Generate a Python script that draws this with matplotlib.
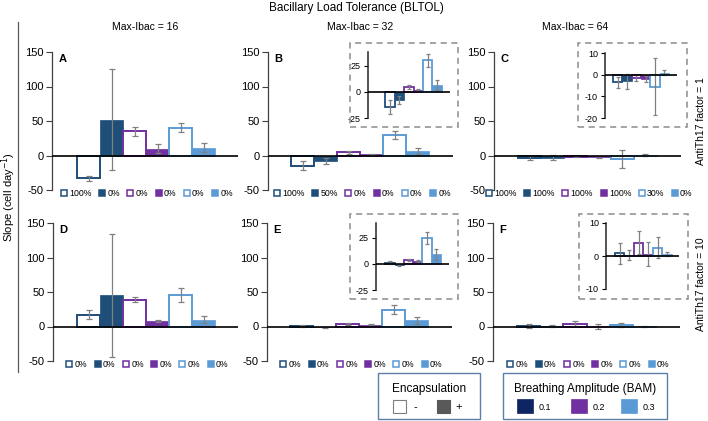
import numpy as np
import matplotlib.pyplot as plt
from matplotlib.lines import Line2D
from matplotlib.patches import Rectangle

plt.rcParams['font.family'] = ['Liberation Sans', 'DejaVu Sans']
plt.rcParams['axes.unicode_minus'] = False

# bar order: BAM 0.1 (-,+), BAM 0.2 (-,+), BAM 0.3 (-,+)
colors = ['#1f4e79', '#1f4e79', '#7030a0', '#7030a0', '#5b9bd5', '#5b9bd5']
filled = [False, True, False, True, False, True]

valsA = [-33, 52, 35, 10, 40, 11.5]
errA = [4, 73, 7, 7, 6.5, 7]
pctA = ['100%', '0%', '0%', '0%', '0%', '0%']

valsB = [-14.5, -8, 4.5, 1.5, 30, 6.5]
errB = [6.5, 4, 2, 1, 6, 5]
pctB = ['100%', '50%', '0%', '0%', '0%', '0%']

valsC = [-3.5, -3, -1.5, -2, -5.5, 1]
errC = [2.5, 3.5, 1.2, 1.5, 13, 1]
pctC = ['100%', '100%', '100%', '100%', '30%', '0%']

valsD = [17, 45, 39, 8, 46, 10]
errD = [6.5, 89, 4, 2, 10, 5]
pctD = ['0%', '0%', '0%', '0%', '0%', '0%']

valsE = [1, -1, 3.5, 2.5, 24.5, 9]
errE = [1.5, 1, 1, 1, 6, 5]
pctE = ['0%', '0%', '0%', '0%', '0%', '0%']

valsF = [0.8, 0.3, 4, 0.5, 2.5, 0.5]
errF = [3.2, 1.5, 3.5, 3.6, 3.2, 0.6]
pctF = ['0%', '0%', '0%', '0%', '0%', '0%']

col_titles = ['Max-Ibac = 16', 'Max-Ibac = 32', 'Max-Ibac = 64']
row_titles = ['AntiTh17 factor = 1', 'AntiTh17 factor = 10']

W, H = 708, 421
fig = plt.figure(figsize=(W / 100, H / 100), dpi=100)


def px(x0, y0, x1, y1):
    # pixel box -> figure fraction rect
    return [x0 / W, 1 - y1 / H, (x1 - x0) / W, (y1 - y0) / H]


def draw_bars(ax, vals, errs, lw=1.4, cap=2):
    x = np.arange(6)
    for i in range(6):
        if filled[i]:
            ax.bar(x[i], vals[i], width=1.0, color=colors[i], edgecolor=colors[i], linewidth=0.5, zorder=2)
        else:
            ax.bar(x[i], vals[i], width=1.0, facecolor='white', edgecolor=colors[i], linewidth=lw, zorder=2)
    ax.errorbar(x, vals, yerr=errs, fmt='none', ecolor='#808080', elinewidth=0.9, capsize=cap, capthick=0.9, zorder=3)
    ax.axhline(0, color='black', lw=1.2, zorder=4)
    for s in ['top', 'right', 'bottom']:
        ax.spines[s].set_visible(False)
    ax.set_xticks([])
    ax.patch.set_alpha(0)


def main_panel(rect, vals, errs, pct, letter, xl):
    ax = fig.add_axes(px(*rect))
    draw_bars(ax, vals, errs)
    ax.set_xlim(*xl)
    ax.set_ylim(-50, 150)
    ax.set_yticks([-50, 0, 50, 100, 150])
    ax.spines['left'].set_color('#404040')
    ax.spines['left'].set_linewidth(0.9)
    ax.tick_params(axis='y', direction='out', length=4, width=0.8, color='#404040', labelsize=8, pad=2)
    ax.text(0.035, 0.985, letter, transform=ax.transAxes, fontsize=8, fontweight='bold', va='top', ha='left')
    handles = [Line2D([], [], ls='none', marker='s', markersize=4.5, markeredgewidth=1.1,
                      markeredgecolor=colors[i], markerfacecolor=colors[i] if filled[i] else 'white')
               for i in range(6)]
    ax.legend(handles, pct, loc='center', bbox_to_anchor=(0.51, -0.025), ncol=6, frameon=False,
              fontsize=6.3, handlelength=0.7, handletextpad=0.25, columnspacing=0.85, borderpad=0)
    return ax


def inset(rect, box, vals, errs, yl, yt, xl):
    fig.add_artist(Rectangle((box[0] / W, 1 - box[3] / H), (box[2] - box[0]) / W, (box[3] - box[1]) / H,
                             transform=fig.transFigure, fill=False, ls=(0, (4, 3)), lw=1.1, ec='#8c8c8c'))
    ax = fig.add_axes(px(*rect))
    draw_bars(ax, vals, errs, lw=1.3, cap=1.5)
    ax.set_xlim(*xl)
    ax.set_ylim(*yl)
    ax.set_yticks(yt)
    ax.spines['left'].set_color('#262626')
    ax.spines['left'].set_linewidth(1.1)
    ax.tick_params(axis='y', direction='out', length=3, width=0.8, labelsize=6.5, pad=2)
    return ax


main_panel((52, 52, 238, 190), valsA, errA, pctA, 'A', (-1.59, 6.5))
main_panel((268, 52, 453, 190), valsB, errB, pctB, 'B', (-1.5, 6.54))
main_panel((494, 52, 681, 190), valsC, errC, pctC, 'C', (-1.55, 6.55))
main_panel((53, 223, 238, 361), valsD, errD, pctD, 'D', (-1.55, 6.5))
main_panel((267, 223, 452, 361), valsE, errE, pctE, 'E', (-1.5, 6.54))
main_panel((493, 223, 680, 361), valsF, errF, pctF, 'F', (-1.55, 6.55))

inset((368, 52, 450, 118), (350, 43, 458, 127), valsB, errB, (-25, 38), [-25, 0, 25], (-2.3, 6.35))
inset((605, 53, 677, 118), (578, 43, 687, 127), valsC, errC, (-20, 10), [-20, -10, 0, 10], (-1.36, 6.36))
inset((376, 223, 449, 290), (350, 214, 458, 299), valsE, errE, (-25, 39), [-25, 0, 25], (-1.5, 6.35))
inset((606, 223, 679, 289), (579, 214, 688, 299), valsF, errF, (-10, 10), [-10, 0, 10], (-1.45, 6.25))

# titles and labels
fig.text(356 / W, 1 - 8 / H, 'Bacillary Load Tolerance (BLTOL)', ha='center', va='center', fontsize=8.5)
for cx, t in zip([145, 360, 575], col_titles):
    fig.text(cx / W, 1 - 27 / H, t, ha='center', va='center', fontsize=7.5)
for cy, t in zip([121, 284], row_titles):
    fig.text(701 / W, 1 - cy / H, t, ha='center', va='center', rotation=90, fontsize=7.5)
fig.text(9 / W, 1 - 197 / H, 'Slope (cell day$^{-1}$)', ha='center', va='center', rotation=90, fontsize=8)
fig.add_artist(Line2D([18 / W, 18 / W], [1 - 22 / H, 1 - 372 / H], transform=fig.transFigure, color='#595959', lw=0.9))

# bottom legend boxes
edge = '#5a7fa8'
fig.add_artist(Rectangle((378 / W, 1 - 419 / H), 102 / W, 46 / H, transform=fig.transFigure,
                         fill=False, ec=edge, lw=1.0))
fig.text(429 / W, 1 - 389 / H, 'Encapsulation', ha='center', va='center', fontsize=8.5)
enc_labels = ['-', '+']
enc_fc = ['white', '#595959']
enc_ec = ['#7f7f7f', '#595959']
for x0, lab, fc, ec in zip([393, 437], enc_labels, enc_fc, enc_ec):
    fig.add_artist(Rectangle((x0 / W, 1 - 413 / H), 13 / W, 13 / H, transform=fig.transFigure, fc=fc, ec=ec, lw=0.8))
    fig.text((x0 + 22) / W, 1 - 407 / H, lab, ha='center', va='center', fontsize=8)

fig.add_artist(Rectangle((503 / W, 1 - 419 / H), 164 / W, 46 / H, transform=fig.transFigure,
                         fill=False, ec=edge, lw=1.0))
fig.text(585 / W, 1 - 389 / H, 'Breathing Amplitude (BAM)', ha='center', va='center', fontsize=8.5)
bam_labels = ['0.1', '0.2', '0.3']
bam_colors = ['#0e2463', '#7030a0', '#5b9bd5']
for x0, lab, c in zip([517, 571, 621], bam_labels, bam_colors):
    fig.add_artist(Rectangle((x0 / W, 1 - 413 / H), 16 / W, 14 / H, transform=fig.transFigure, fc=c, ec=c, lw=0.5))
    fig.text((x0 + 22) / W, 1 - 407 / H, lab, ha='left', va='center', fontsize=6.5)

fig.savefig('out.png', dpi=100)
